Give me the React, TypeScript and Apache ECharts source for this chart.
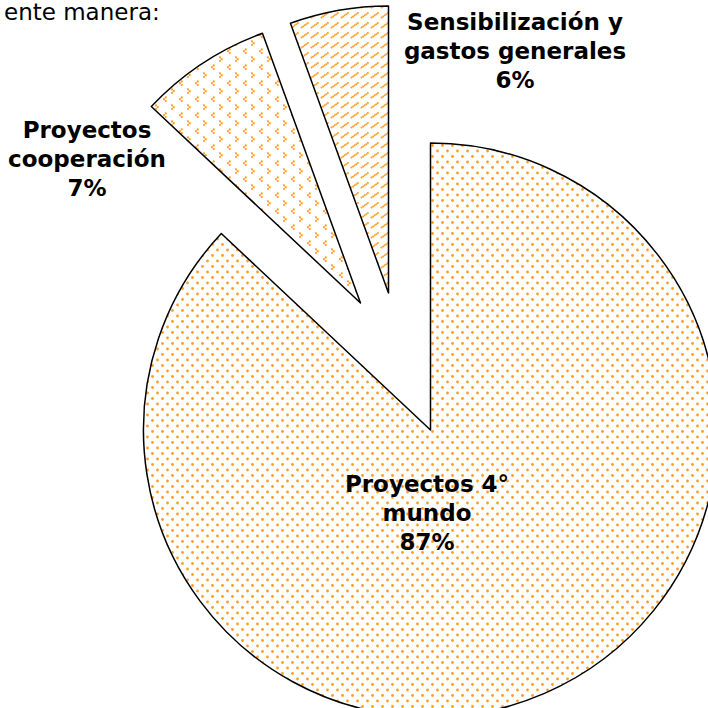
import React, { useEffect, useRef } from "react";
import * as echarts from "echarts";

// ---- data ----
const categories = ["Proyectos 4° mundo", "Proyectos cooperación", "Sensibilización y gastos generales"];
const labelNames = ["Proyectos 4°\nmundo", "Proyectos\ncooperación", "Sensibilización y\ngastos generales"];
const values = [87.0, 7.45, 5.55];
const introText = "ente manera:";

// ---- layout (pixels) ----
const sliceCenters: [number, number][] = [
  [430.5, 430],
  [360.5, 303],
  [388.5, 293],
];
const labelPos: [number, number][] = [
  [427, 513],
  [87, 159],
  [515, 51],
];
const RADIUS = 287;
const ORANGE = "#FF9D24";

function makeCanvas(w: number, h: number, draw: (ctx: CanvasRenderingContext2D) => void) {
  const c = document.createElement("canvas");
  c.width = w;
  c.height = h;
  const ctx = c.getContext("2d")!;
  ctx.fillStyle = "#ffffff";
  ctx.fillRect(0, 0, w, h);
  draw(ctx);
  return c;
}

function dot(ctx: CanvasRenderingContext2D, x: number, y: number, r: number) {
  ctx.beginPath();
  ctx.arc(x, y, r, 0, Math.PI * 2);
  ctx.fill();
}

function makePatterns() {
  const dots = makeCanvas(10, 11, (ctx) => {
    ctx.fillStyle = ORANGE;
    dot(ctx, 2.5, 2.5, 1.4);
    dot(ctx, 7.5, 8, 1.4);
  });
  const chevrons = makeCanvas(16, 16, (ctx) => {
    ctx.fillStyle = ORANGE;
    // "<" glyph
    dot(ctx, 5.8, 1.4, 1.1);
    dot(ctx, 4, 3.2, 1.1);
    dot(ctx, 5.8, 5, 1.1);
    // ">" glyph
    dot(ctx, 12, 9.4, 1.1);
    dot(ctx, 13.8, 11.2, 1.1);
    dot(ctx, 12, 13, 1.1);
  });
  const hatch = makeCanvas(10, 10, (ctx) => {
    ctx.fillStyle = ORANGE;
    for (let i = 0; i < 5; i++) {
      dot(ctx, 1.5 + i * 1.6, 7.5 - i * 1.1, 1.0);
    }
  });
  return [dots, chevrons, hatch];
}

export default function App() {
  const ref = useRef<HTMLDivElement>(null);

  useEffect(() => {
    if (!ref.current) return;
    const chart = echarts.init(ref.current, null, { renderer: "svg" });
    const patterns = makePatterns();
    const total = values.reduce((a, b) => a + b, 0);

    const series = sliceCenters.map((center, si) => ({
      type: "pie",
      center,
      radius: [0, RADIUS],
      startAngle: 90,
      clockwise: true,
      silent: true,
      avoidLabelOverlap: false,
      label: { show: false },
      labelLine: { show: false },
      emphasis: { disabled: true },
      data: categories.map((name, i) => ({
        name,
        value: values[i],
        itemStyle:
          i === si
            ? {
                color: { image: patterns[i], repeat: "repeat" },
                borderColor: "#000000",
                borderWidth: 1.5,
              }
            : { color: "rgba(0,0,0,0)", borderWidth: 0 },
      })),
    }));

    const labels = labelNames.map((n, i) => ({
      type: "text",
      x: labelPos[i][0],
      y: labelPos[i][1],
      z: 100,
      style: {
        text: `${n}\n${Math.round((values[i] / total) * 100)}%`,
        fill: "#000000",
        font: 'bold 23px "DejaVu Sans"',
        textAlign: "center",
        textVerticalAlign: "middle",
        lineHeight: 29,
      },
    }));

    chart.setOption({
      animation: false,
      backgroundColor: "#ffffff",
      series,
      graphic: [
        {
          type: "text",
          x: 4,
          y: 23,
          style: {
            text: introText,
            fill: "#000000",
            font: '23px "DejaVu Sans"',
            textAlign: "left",
            textVerticalAlign: "bottom",
          },
        },
        ...labels,
      ],
    });

    return () => chart.dispose();
  }, []);

  return (
    <div
      ref={ref}
      style={{ position: "fixed", left: 0, top: 0, width: 708, height: 708 }}
    />
  );
}
